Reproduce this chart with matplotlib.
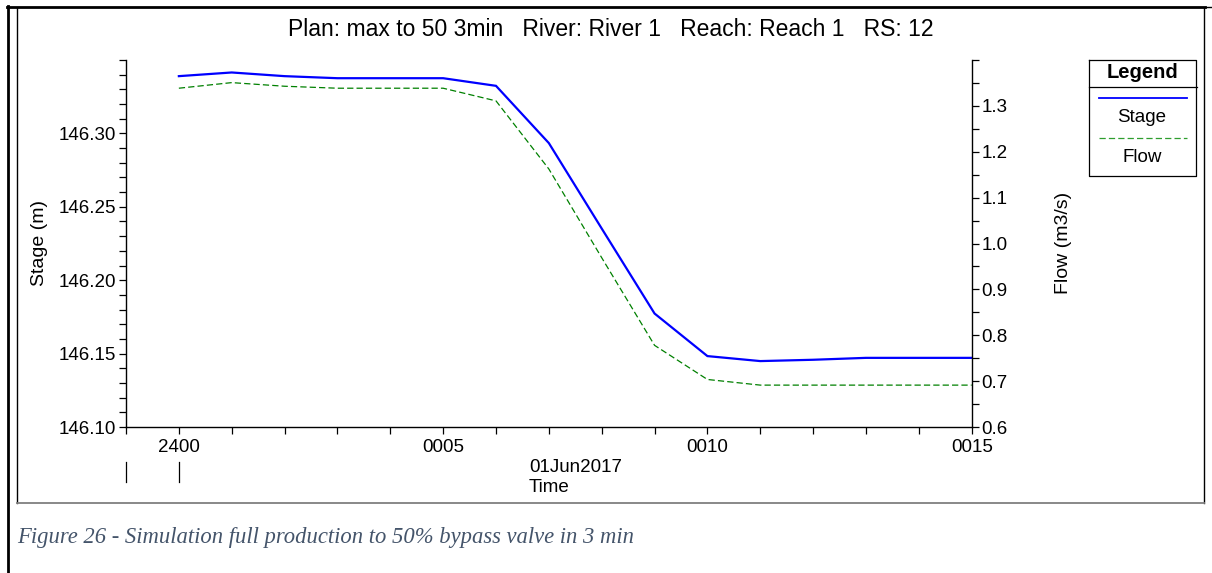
import matplotlib
matplotlib.use("Agg")
import matplotlib.pyplot as plt
from matplotlib.lines import Line2D
from matplotlib.ticker import FixedLocator, MultipleLocator

plt.rcParams["font.family"] = ["Liberation Sans", "DejaVu Sans"]

# Minutes after 2400 on 31May2017 (i.e. 01Jun2017 00:00 .. 00:15)
minutes = [0, 1, 2, 3, 4, 5, 6, 7, 8, 9, 10, 11, 12, 13, 14, 15]
stage = [146.339, 146.3415, 146.339, 146.3376, 146.3376, 146.3376, 146.3324,
         146.2934, 146.2352, 146.1773, 146.1483, 146.1449, 146.1458, 146.1471,
         146.1471, 146.1471]
flow = [1.3385, 1.3507, 1.3428, 1.3385, 1.3385, 1.3385, 1.3109, 1.1624,
        0.969, 0.778, 0.7036, 0.6913, 0.6913, 0.6913, 0.6913, 0.6913]

time_ticks = [0, 5, 10, 15]
time_labels = ["2400", "0005", "0010", "0015"]
stage_ticks = [146.10, 146.15, 146.20, 146.25, 146.30]
flow_ticks = [0.6, 0.7, 0.8, 0.9, 1.0, 1.1, 1.2, 1.3]

title = "Plan: max to 50 3min   River: River 1   Reach: Reach 1   RS: 12"
caption = "Figure 26 - Simulation full production to 50% bypass valve in 3 min"

W, H = 1212, 573
fig = plt.figure(figsize=(W / 100, H / 100), dpi=100)
fig.patch.set_facecolor("white")


def fx(px):
    return px / W


def fy(py):
    return 1 - py / H


FS = 13.5
ax = fig.add_axes([fx(126), fy(427), fx(971.7) - fx(126), fy(60) - fy(427)])
ax2 = ax.twinx()

ax.plot(minutes, stage, color="#0000ff", lw=1.6, solid_joinstyle="miter",
        zorder=3)
ax2.plot(minutes, flow, color="#008000", lw=0.9, dashes=(5, 2.5), zorder=2)

ax.set_xlim(-1, 15)
ax.set_ylim(146.10, 146.35)
ax2.set_ylim(0.6, 1.4)

for a in (ax, ax2):
    a.spines["top"].set_visible(False)
    for s in a.spines.values():
        s.set_linewidth(1.0)
ax.spines["right"].set_visible(False)
ax2.spines["left"].set_visible(False)
ax2.spines["bottom"].set_visible(False)

ax.xaxis.set_major_locator(FixedLocator(time_ticks))
ax.set_xticklabels(time_labels)
ax.xaxis.set_minor_locator(MultipleLocator(1))
ax.yaxis.set_major_locator(FixedLocator(stage_ticks))
ax.set_yticklabels([f"{v:.2f}" for v in stage_ticks])
ax.yaxis.set_minor_locator(MultipleLocator(0.01))
ax2.yaxis.set_major_locator(FixedLocator(flow_ticks))
ax2.set_yticklabels([f"{v:.1f}" for v in flow_ticks])
ax2.yaxis.set_minor_locator(MultipleLocator(0.05))

ax.tick_params(axis="both", which="both", direction="out", length=5,
               width=0.9, labelsize=FS, colors="black", pad=2)
ax2.tick_params(axis="y", which="both", direction="out", length=5,
                width=0.9, labelsize=FS, colors="black", pad=2)
ax.tick_params(axis="x", pad=4)

fig.text(fx(40), fy(243), "Stage (m)", rotation=90, ha="center",
         va="center", fontsize=14)
fig.text(fx(1063), fy(243), "Flow (m3/s)", rotation=90, ha="center",
         va="center", fontsize=14)

fig.text(fx(611), fy(29), title, ha="center", va="center", fontsize=16.5)

# day label and axis title under the time axis
ax_h = fy(60) - fy(427)


def below_axis(py):
    return (fy(py) - fy(427)) / ax_h


ax.text(7.5, below_axis(468), "01Jun2017",
        transform=ax.get_xaxis_transform(), ha="center", va="center",
        fontsize=FS)
ax.text(0.5, below_axis(487), "Time", transform=ax.transAxes, ha="center",
        va="center", fontsize=FS)
# day boundary markers
for xm in (-1, 0):
    ax.add_line(Line2D([xm, xm], [below_axis(462), below_axis(482)],
                       transform=ax.get_xaxis_transform(), color="black",
                       lw=0.9, clip_on=False))

# legend box
lx0, lx1, ly0, ly1 = 1088.5, 1195.5, 59.5, 175.5
fig.add_artist(Line2D([fx(lx0), fx(lx1), fx(lx1), fx(lx0), fx(lx0)],
                      [fy(ly0), fy(ly0), fy(ly1), fy(ly1), fy(ly0)],
                      color="black", lw=0.9))
fig.add_artist(Line2D([fx(lx0), fx(1197)], [fy(87.3), fy(87.3)],
                      color="black", lw=0.9))
fig.text(fx(1143), fy(72), "Legend", ha="center", va="center",
         fontsize=14.5, fontweight="bold")
fig.add_artist(Line2D([fx(1099), fx(1187)], [fy(98.3), fy(98.3)],
                      color="#0000ff", lw=1.3))
fig.text(fx(1142), fy(117.5), "Stage", ha="center", va="center", fontsize=FS)
fig.add_artist(Line2D([fx(1099), fx(1187)], [fy(137.7), fy(137.7)],
                      color="#2e9e2e", lw=0.9, dashes=(5, 2.5)))
fig.text(fx(1142), fy(157), "Flow", ha="center", va="center", fontsize=FS)

# page frame
fig.add_artist(Line2D([fx(8), fx(8)], [fy(6), 0], color="black", lw=2.0))
fig.add_artist(Line2D([fx(7), fx(1205)], [fy(7), fy(7)], color="black",
                      lw=2.0))
fig.add_artist(Line2D([fx(1205), fx(1212)], [fy(6.5), fy(6.5)],
                      color="black", lw=1.0))
fig.add_artist(Line2D([fx(17), fx(17)], [fy(8), fy(503)], color="black",
                      lw=1.0))
fig.add_artist(Line2D([fx(1204.3), fx(1204.3)], [fy(8), fy(503)],
                      color="black", lw=1.0))
fig.add_artist(Line2D([fx(17), fx(1204.3)], [fy(503), fy(503)],
                      color="#7f7f7f", lw=1.3))

fig.text(fx(17), fy(537), caption, ha="left", va="center", fontsize=16.3,
         fontstyle="italic", family=["Liberation Serif", "DejaVu Serif"],
         color="#44546a")

fig.savefig("out.png", dpi=100, facecolor="white")
